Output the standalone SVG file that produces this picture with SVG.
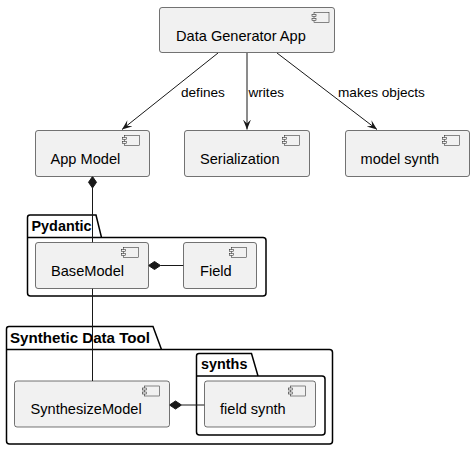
<svg xmlns="http://www.w3.org/2000/svg" width="474" height="449" viewBox="0 0 474 449">
<defs>
<style>
.node rect.b{fill:#F1F1F1;stroke:#181818;stroke-width:0.6}
.ic{fill:#F1F1F1;stroke:#181818;stroke-width:0.5}
.nt{font-family:"Liberation Sans",Arial,sans-serif;font-size:14.6px;fill:#000}
.lb{font-family:"Liberation Sans",Arial,sans-serif;font-size:13.6px;fill:#000}
.pk{fill:none;stroke:#000;stroke-width:1.5}
.pt{font-family:"Liberation Sans",Arial,sans-serif;font-size:14.4px;font-weight:bold;fill:#000}
.ln{stroke:#181818;stroke-width:1;fill:none}
.dm{fill:#181818;stroke:#181818;stroke-width:1}
</style>
<marker id="arr" markerUnits="userSpaceOnUse" markerWidth="12" markerHeight="10" refX="10" refY="4" orient="auto">
<path d="M0,0 L10,4 L0,8 L4,4 Z" fill="#181818"/>
</marker>
<g id="icon">
<rect class="ic" x="0" y="0" width="15" height="10"/>
<rect class="ic" x="-2" y="2" width="4" height="2"/>
<rect class="ic" x="-2" y="6" width="4" height="2"/>
</g>
</defs>
<rect width="474" height="449" fill="#fff"/>
<g id="pkg-synthetic">
<path class="pk" d="M6.5,349.5 L6.5,329 Q6.5,326.5 9,326.5 L153,326.5 L161.5,349.5 L329.5,349.5 Q332.5,349.5 332.5,352.5 L332.5,441 Q332.5,444 329.5,444 L9.5,444 Q6.5,444 6.5,441 Z M6.5,349.5 L161.5,349.5"/>
<text class="pt" x="10" y="342.5" textLength="140" lengthAdjust="spacingAndGlyphs">Synthetic Data Tool</text>
</g>
<g id="pkg-synths">
<path class="pk" d="M196.5,376 L196.5,356 Q196.5,353.5 199,353.5 L251.5,353.5 L258,376 L322,376 Q325,376 325,379 L325,432 Q325,435 322,435 L199.5,435 Q196.5,435 196.5,432 Z M196.5,376 L258,376"/>
<text class="pt" x="201" y="368.5">synths</text>
</g>
<g id="pkg-pydantic">
<path class="pk" d="M27.5,237.5 L27.5,217.5 Q27.5,215 30,215 L96,215 L101.5,237.5 L263,237.5 Q266,237.5 266,240.5 L266,293 Q266,296 263,296 L30.5,296 Q27.5,296 27.5,293 Z M27.5,237.5 L101.5,237.5"/>
<text class="pt" x="31.5" y="231">Pydantic</text>
</g>
<g id="connectors">
<line class="ln" x1="218" y1="53" x2="122" y2="129.5" marker-end="url(#arr)"/>
<line class="ln" x1="247" y1="53" x2="247" y2="129.5" marker-end="url(#arr)"/>
<line class="ln" x1="277" y1="53" x2="377" y2="129.5" marker-end="url(#arr)"/>
<text class="lb" x="181" y="97">defines</text>
<text class="lb" x="248.5" y="97">writes</text>
<text class="lb" x="338" y="97">makes objects</text>
<line class="ln" x1="92.5" y1="188" x2="92.5" y2="242.5"/>
<polygon class="dm" points="92.5,176.5 96.5,182.3 92.5,188 88.5,182.3"/>
<line class="ln" x1="92.5" y1="288.5" x2="92.5" y2="381"/>
<line class="ln" x1="160.5" y1="265.5" x2="183.5" y2="265.5"/>
<polygon class="dm" points="148.5,265.5 154.5,261.5 160.5,265.5 154.5,269.5"/>
<line class="ln" x1="181.5" y1="405" x2="204.5" y2="405"/>
<polygon class="dm" points="169.5,405 175.5,401 181.5,405 175.5,409"/>
</g>
<g id="node-app" class="node">
<rect class="b" x="159.5" y="7.5" width="175" height="45" rx="2.5"/>
<use href="#icon" x="314" y="12.5"/>
<text class="nt" x="176" y="41">Data Generator App</text>
</g>
<g id="node-appmodel" class="node">
<rect class="b" x="35.5" y="130.5" width="114" height="46" rx="2.5"/>
<use href="#icon" x="124.5" y="135.5"/>
<text class="nt" x="50.5" y="164">App Model</text>
</g>
<g id="node-serialization" class="node">
<rect class="b" x="184.5" y="130.5" width="125" height="46" rx="2.5"/>
<use href="#icon" x="284.5" y="135.5"/>
<text class="nt" x="200" y="164">Serialization</text>
</g>
<g id="node-modelsynth" class="node">
<rect class="b" x="345.5" y="130.5" width="124" height="46" rx="2.5"/>
<use href="#icon" x="444.5" y="135.5"/>
<text class="nt" x="360.5" y="164">model synth</text>
</g>
<g id="node-basemodel" class="node">
<rect class="b" x="35.5" y="242.5" width="113" height="46" rx="2.5"/>
<use href="#icon" x="123.5" y="247.5"/>
<text class="nt" x="51" y="276">BaseModel</text>
</g>
<g id="node-field" class="node">
<rect class="b" x="183.5" y="242.5" width="73" height="46" rx="2.5"/>
<use href="#icon" x="231.5" y="247.5"/>
<text class="nt" x="200" y="276">Field</text>
</g>
<g id="node-synthesizemodel" class="node">
<rect class="b" x="14.5" y="381" width="155" height="46" rx="2.5"/>
<use href="#icon" x="144.5" y="386"/>
<text class="nt" x="30.5" y="414">SynthesizeModel</text>
</g>
<g id="node-fieldsynth" class="node">
<rect class="b" x="204.5" y="381" width="111" height="46" rx="2.5"/>
<use href="#icon" x="290.5" y="386"/>
<text class="nt" x="220" y="414">field synth</text>
</g>
</svg>
